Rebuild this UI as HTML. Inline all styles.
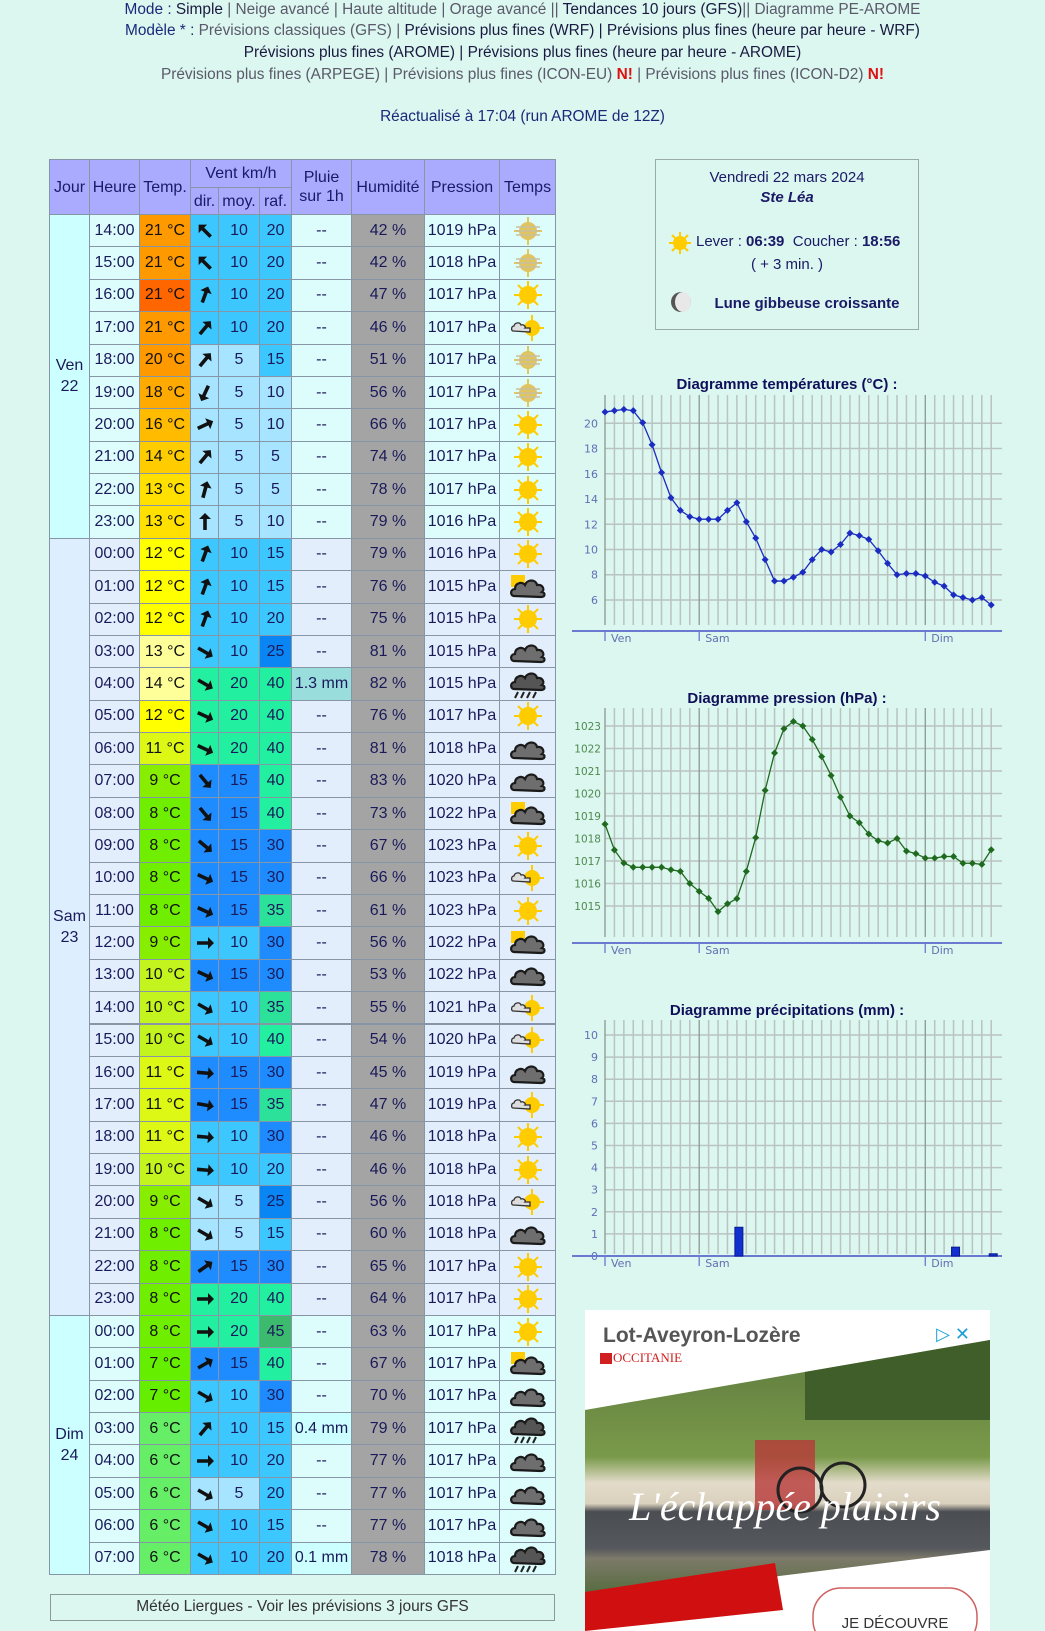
<!DOCTYPE html>
<html lang="fr">
<head>
<meta charset="utf-8">
<style>
  html,body{margin:0;padding:0;}
  body{width:1045px;height:1631px;overflow:hidden;background:#dcf6f0;position:relative;font-family:"Liberation Sans",sans-serif;color:#1a1a5a;}
  .topline{position:absolute;left:0;width:1045px;text-align:center;font-size:15.4px;white-space:nowrap;line-height:18px;}
  .g{color:#5a5a6a;} .d{color:#1a1a40;} .n{color:#1a2a7a;} .r{color:#e01010;font-weight:bold;}
  .cell{position:absolute;box-sizing:border-box;border:1px solid #8796a6;display:flex;align-items:center;justify-content:center;font-size:16px;white-space:nowrap;}
  .hd{background:#aaaaff;color:#1a1a66;text-align:center;line-height:19px;}
  .infobox{position:absolute;left:655px;top:159px;width:264px;height:171px;box-sizing:border-box;border:1.5px solid #9aa;text-align:center;font-size:15px;color:#1a1a66;}
</style>
</head>
<body>
<div class="topline" style="top:1px"><span class="n">Mode : </span><span class="d">Simple</span><span class="g"> | Neige avancé | Haute altitude | Orage avancé || </span><span class="d">Tendances 10 jours (GFS)</span><span class="g">|| Diagramme PE-AROME</span></div>
<div class="topline" style="top:22px"><span class="n">Modèle * : </span><span class="g">Prévisions classiques (GFS) | </span><span class="d">Prévisions plus fines (WRF) | Prévisions plus fines (heure par heure - WRF)</span></div>
<div class="topline" style="top:44px"><span class="d">Prévisions plus fines (AROME) | Prévisions plus fines (heure par heure - AROME)</span></div>
<div class="topline" style="top:66px"><span class="g">Prévisions plus fines (ARPEGE) | Prévisions plus fines (ICON-EU) </span><span class="r">N!</span><span class="g"> | Prévisions plus fines (ICON-D2) </span><span class="r">N!</span></div>
<div class="topline n" style="top:108px">Réactualisé à 17:04 (run AROME de 12Z)</div>

<div id="tbl"></div>

<div class="infobox">
  <div style="position:absolute;top:9px;width:100%">Vendredi 22 mars 2024</div>
  <div style="position:absolute;top:29px;width:100%;font-weight:bold;font-style:italic">Ste Léa</div>
  <svg style="position:absolute;left:12px;top:71px" width="24" height="24" viewBox="0 0 24 24"><g stroke="#ffcc00" stroke-width="2"><line x1="12" y1="1" x2="12" y2="23"/><line x1="1" y1="12" x2="23" y2="12"/><line x1="4" y1="4" x2="20" y2="20"/><line x1="20" y1="4" x2="4" y2="20"/></g><circle cx="12" cy="12" r="7" fill="#ffcc00"/></svg>
  <div style="position:absolute;top:73px;left:40px;width:222px;text-align:left">Lever : <b>06:39</b> &nbsp;Coucher : <b>18:56</b></div>
  <div style="position:absolute;top:96px;width:100%">( + 3 min. )</div>
  <svg style="position:absolute;left:14px;top:131px" width="22" height="22" viewBox="0 0 22 22"><circle cx="11" cy="11" r="10" fill="#555"/><ellipse cx="13" cy="11" rx="8" ry="10" fill="#e8e8e8"/></svg>
  <div style="position:absolute;top:135px;left:40px;width:222px;font-weight:bold">Lune gibbeuse croissante</div>
</div>

<svg id="charts" width="1045" height="1631" style="position:absolute;left:0;top:0"></svg>

<div style="position:absolute;left:50px;top:1594px;width:505px;height:27px;box-sizing:border-box;border:1.5px solid #8a9a9a;text-align:center;font-size:15.5px;line-height:24px;color:#333">Météo Liergues - Voir les prévisions 3 jours GFS</div>

<div style="position:absolute;left:585px;top:1310px;width:405px;height:321px;background:#fff;overflow:hidden">
  <svg width="405" height="321" style="position:absolute;left:0;top:0">
    <defs>
      <clipPath id="pc"><polygon points="0,100 405,30 405,240 0,290"/></clipPath>
      <linearGradient id="sky" x1="0" y1="0" x2="0" y2="1"><stop offset="0" stop-color="#5d7a3e"/><stop offset="0.45" stop-color="#7a9a4a"/><stop offset="0.55" stop-color="#e4dccb"/><stop offset="0.63" stop-color="#d9d0bd"/><stop offset="0.66" stop-color="#4a4d52"/><stop offset="0.8" stop-color="#55585c"/><stop offset="0.84" stop-color="#7d7a6a"/><stop offset="1" stop-color="#4f6a36"/></linearGradient>
    </defs>
    <rect x="0" y="30" width="405" height="260" fill="url(#sky)" clip-path="url(#pc)"/>
    <g clip-path="url(#pc)"><rect x="220" y="20" width="185" height="90" fill="#3f5e2a"/><rect x="170" y="130" width="60" height="70" fill="#b8393a" opacity="0.8"/><circle cx="215" cy="180" r="22" fill="none" stroke="#222" stroke-width="3"/><circle cx="258" cy="175" r="22" fill="none" stroke="#222" stroke-width="3"/></g>
    <polygon points="0,282 190,253 198,300 0,321" fill="#d01010"/>
    <rect x="228" y="278" width="164" height="60" rx="28" fill="#fff" stroke="#d06060" stroke-width="1.5"/>
    <text x="310" y="318" text-anchor="middle" font-family="Liberation Sans,sans-serif" font-size="15" fill="#333">JE DÉCOUVRE</text>
    <text x="18" y="32" font-family="Liberation Sans,sans-serif" font-weight="bold" font-size="21" fill="#555">Lot-Aveyron-Lozère</text>
    <text x="28" y="52" font-family="Liberation Serif,serif" font-size="13" fill="#d02020">OCCITANIE</text>
    <rect x="15" y="43" width="12" height="11" fill="#d02020"/>
    <text x="385" y="30" font-family="Liberation Sans,sans-serif" font-size="18" fill="#1aa0d8" text-anchor="end">▷ ✕</text>
    <text x="200" y="210" text-anchor="middle" font-family="Liberation Serif,serif" font-style="italic" font-size="40" fill="#fff">L'échappée plaisirs</text>
  </svg>
</div>

<svg width="0" height="0" style="position:absolute">
  <defs>
    <symbol id="i-sun" viewBox="0 0 40 30"><g stroke="#ffcc00" stroke-width="2"><line x1="20" y1="1" x2="20" y2="29"/><line x1="6" y1="15" x2="34" y2="15"/><line x1="10" y1="5" x2="30" y2="25"/><line x1="30" y1="5" x2="10" y2="25"/></g><circle cx="20" cy="15" r="9" fill="#ffcc00"/></symbol>
    <symbol id="i-haze" viewBox="0 0 40 30"><g stroke="#e8c850" stroke-width="2"><line x1="20" y1="1" x2="20" y2="29"/><line x1="6" y1="15" x2="34" y2="15"/></g><circle cx="20" cy="15" r="9" fill="#e0c460"/><g stroke="#c8c0a0" stroke-width="1.5"><line x1="8" y1="11" x2="32" y2="11"/><line x1="8" y1="15" x2="32" y2="15"/><line x1="8" y1="19" x2="32" y2="19"/></g></symbol>
    <symbol id="i-cloud" viewBox="0 0 40 30"><path d="M6,24 C2,24 2,17 7,17 C7,11 14,9 17,13 C19,7 28,7 29,13 C35,12 37,18 34,20 C38,21 37,25 33,25 Z" fill="#6e6e6e" stroke="#1a1a1a" stroke-width="2.2"/></symbol>
    <symbol id="i-cloudsun" viewBox="0 0 40 30"><rect x="3" y="3" width="14" height="12" fill="#ffcc00"/><path d="M6,24 C2,24 2,17 7,17 C7,11 14,9 17,13 C19,7 28,7 29,13 C35,12 37,18 34,20 C38,21 37,25 33,25 Z" fill="#6e6e6e" stroke="#1a1a1a" stroke-width="2.2"/></symbol>
    <symbol id="i-small" viewBox="0 0 40 30"><g stroke="#ffcc00" stroke-width="2"><line x1="24" y1="2" x2="24" y2="28"/><line x1="12" y1="15" x2="36" y2="15"/></g><circle cx="24" cy="15" r="8" fill="#ffcc00"/><path d="M5,18 C3,18 3,13 6,13 C7,9 12,9 13,12 C16,11 18,14 17,15 L22,15 L22,19 Z" fill="#ddd" stroke="#333" stroke-width="1.3"/></symbol>
    <symbol id="i-rain" viewBox="0 0 40 30"><path d="M6,20 C2,20 2,13 7,13 C7,7 14,5 17,9 C19,3 28,3 29,9 C35,8 37,14 34,16 C38,17 37,21 33,21 Z" fill="#555" stroke="#1a1a1a" stroke-width="2.2"/><g stroke="#222" stroke-width="2"><line x1="10" y1="23" x2="7" y2="29"/><line x1="16" y1="23" x2="13" y2="29"/><line x1="22" y1="23" x2="19" y2="29"/><line x1="28" y1="23" x2="25" y2="29"/></g></symbol>
  </defs>
</svg>

<script>
// ---------- table data ----------
const hoursLbl=["14:00","15:00","16:00","17:00","18:00","19:00","20:00","21:00","22:00","23:00",
"00:00","01:00","02:00","03:00","04:00","05:00","06:00","07:00","08:00","09:00","10:00","11:00","12:00","13:00","14:00","15:00","16:00","17:00","18:00","19:00","20:00","21:00","22:00","23:00",
"00:00","01:00","02:00","03:00","04:00","05:00","06:00","07:00"];
const tempsTbl=[21,21,21,21,20,18,16,14,13,13,12,12,12,13,14,12,11,9,8,8,8,8,9,10,10,10,11,11,11,10,9,8,8,8,8,7,7,6,6,6,6,6];
const dirs=[-135,-135,-70,-50,-50,115,-25,-50,-75,-90,-70,-70,-70,30,30,25,25,50,50,40,25,25,0,25,30,30,5,10,5,5,30,30,-35,0,0,-30,30,-50,0,30,30,30];
const moys=[10,10,10,10,5,5,5,5,5,5,10,10,10,10,20,20,20,15,15,15,15,15,10,15,10,10,15,15,10,10,5,5,15,20,20,15,10,10,10,5,10,10];
const rafs=[20,20,20,20,15,10,10,5,5,10,15,15,20,25,40,40,40,40,40,30,30,35,30,30,35,40,30,35,30,20,25,15,30,40,45,40,30,15,20,20,15,20];
const rains=["--","--","--","--","--","--","--","--","--","--","--","--","--","--","1.3 mm","--","--","--","--","--","--","--","--","--","--","--","--","--","--","--","--","--","--","--","--","--","--","0.4 mm","--","--","--","0.1 mm"];
const hums=[42,42,47,46,51,56,66,74,78,79,79,76,75,81,82,76,81,83,73,67,66,61,56,53,55,54,45,47,46,46,56,60,65,64,63,67,70,79,77,77,77,78];
const press=[1019,1018,1017,1017,1017,1017,1017,1017,1017,1016,1016,1015,1015,1015,1015,1017,1018,1020,1022,1023,1023,1023,1022,1022,1021,1020,1019,1019,1018,1018,1018,1018,1017,1017,1017,1017,1017,1017,1017,1017,1017,1018];
const icons=["haze","haze","sun","small","haze","haze","sun","sun","sun","sun",
"sun","cloudsun","sun","cloud","rain","sun","cloud","cloud","cloudsun","sun","small","sun","cloudsun","cloud","small","small","cloud","small","sun","sun","small","cloud","sun","sun",
"sun","cloudsun","cloud","rain","cloud","cloud","cloud","rain"];
const days=[["Ven","22",0,10],["Sam","23",10,34],["Dim","24",34,42]];

const cols=[49,89,139,190,218,259,291,351,424,499,555];
const rowTop=214, rowH=32.38;
const tcol={21:'#ff9900',20:'#ff9900',18:'#ffaa00',16:'#ffbb00',14:'#ffcc00',13:'#ffe000',12:'#ffff00',11:'#dcf814',10:'#c4f41e',9:'#88ee00',8:'#70ee00',7:'#66ee00',6:'#66ee66'};
const mcol={5:'#a6e4ff',10:'#3cc8ff',15:'#1e8cff',20:'#22f0a0'};
const rcol={5:'#a6e4ff',10:'#a6e4ff',15:'#3cc8ff',20:'#3cc8ff',25:'#0a86f4',30:'#1e8cff',35:'#2ce29a',40:'#22f0a0',45:'#3cbb6e'};
const tbl=document.getElementById('tbl');

function mk(x1,x2,y1,y2,bg,html,extra){
  const d=document.createElement('div');
  d.className='cell';
  d.style.left=x1+'px';d.style.width=(x2-x1+1)+'px';
  d.style.top=y1+'px';d.style.height=(y2-y1+1)+'px';
  d.style.background=bg;
  if(extra) d.style.cssText+=extra;
  d.innerHTML=html;
  tbl.appendChild(d);
  return d;
}
let h;
h=mk(cols[0],cols[1],159,214,'#aaaaff','Jour');h.classList.add('hd');


h=mk(cols[1],cols[2],159,214,'#aaaaff','Heure');h.classList.add('hd');


h=mk(cols[2],cols[3],159,214,'#aaaaff','Temp.');h.classList.add('hd');


h=mk(cols[3],cols[6],159,187,'#aaaaff','Vent km/h');h.classList.add('hd');


h=mk(cols[3],cols[4],187,214,'#aaaaff','dir.');h.classList.add('hd');


h=mk(cols[4],cols[5],187,214,'#aaaaff','moy.');h.classList.add('hd');


h=mk(cols[5],cols[6],187,214,'#aaaaff','raf.');h.classList.add('hd');


h=mk(cols[6],cols[7],159,214,'#aaaaff','Pluie<br>sur 1h');h.classList.add('hd');


h=mk(cols[7],cols[8],159,214,'#aaaaff','Humidité');h.classList.add('hd');


h=mk(cols[8],cols[9],159,214,'#aaaaff','Pression');h.classList.add('hd');


h=mk(cols[9],cols[10],159,214,'#aaaaff','Temps');h.classList.add('hd');



days.forEach(function(dd){
  const bg = dd[0]==='Sam' ? '#ddeeff' : '#ccffff';
  const c=mk(cols[0],cols[1],rowTop+dd[2]*rowH,rowTop+dd[3]*rowH,bg,dd[0]+'<br>'+dd[1],'text-align:center;line-height:21px;');
  
  
});

for(let i=0;i<hoursLbl.length;i++){
  const y1=rowTop+i*rowH, y2=y1+rowH;
  const rowBg=(i>=10&&i<34)?'#e2eefc':'#ddfdfd';
  let c;
  c=mk(cols[1],cols[2],y1,y2,rowBg,hoursLbl[i]);
  
  
  let tc=tcol[tempsTbl[i]]; if(i===2) tc='#ff6600'; if(i===13||i===14) tc='#ffff99';
  c=mk(cols[2],cols[3],y1,y2,tc,tempsTbl[i]+' °C','color:#111;');
  
  
  c=mk(cols[3],cols[4],y1,y2,mcol[moys[i]],'<svg width="20" height="20" viewBox="-10 -10 20 20" style="transform:rotate('+dirs[i]+'deg)"><path d="M-8,1.8 L3,1.8 L3,6 L9,0 L3,-6 L3,-1.8 L-8,-1.8 Z" fill="#111"/></svg>');
  
  
  c=mk(cols[4],cols[5],y1,y2,mcol[moys[i]],String(moys[i]));
  
  
  c=mk(cols[5],cols[6],y1,y2,rcol[rafs[i]],String(rafs[i]));
  
  
  let rb=rowBg; if(rains[i]==='1.3 mm') rb='#99dddd'; else if(rains[i]!=='--') rb='#ccffff';
  c=mk(cols[6],cols[7],y1,y2,rb,rains[i]);
  
  
  c=mk(cols[7],cols[8],y1,y2,'#a4a4a4',hums[i]+' %');
  
  
  c=mk(cols[8],cols[9],y1,y2,rowBg,press[i]+' hPa');
  
  
  c=mk(cols[9],cols[10],y1,y2,rowBg,'<svg width="40" height="30"><use href="#i-'+icons[i]+'"/></svg>');
  
  
}

// ---------- chart data ----------
const tempValues=[20.9,21.0,21.1,21.0,20.05,18.3,16.1,14.1,13.1,12.6,12.4,12.4,12.4,13.1,13.7,12.2,10.9,9.2,7.5,7.5,7.8,8.2,9.2,10.0,9.8,10.4,11.3,11.1,10.8,9.9,8.9,8.0,8.1,8.1,7.9,7.4,7.1,6.4,6.2,6.0,6.2,5.6];
const pressValues=[1018.64,1017.49,1016.91,1016.72,1016.72,1016.72,1016.72,1016.61,1016.54,1016.0,1015.65,1015.34,1014.75,1015.1,1015.33,1016.54,1018.04,1020.14,1021.8,1022.88,1023.2,1023.0,1022.4,1021.64,1020.8,1019.84,1019.0,1018.7,1018.2,1017.9,1017.8,1018.0,1017.44,1017.33,1017.13,1017.13,1017.2,1017.2,1016.9,1016.9,1016.85,1017.5];
const rainValues=[0,0,0,0,0,0,0,0,0,0,0,0,0,0,1.3,0,0,0,0,0,0,0,0,0,0,0,0,0,0,0,0,0,0,0,0,0,0,0.4,0,0,0,0.1];
const tempTicks=[6,8,10,12,14,16,18,20];
const pressTicks=[1015,1016,1017,1018,1019,1020,1021,1022,1023];
const rainTicks=[0,1,2,3,4,5,6,7,8,9,10];
const dayLabels=["Ven","Sam","Dim"];
const dayStarts=[0,10,34];

const NS='http://www.w3.org/2000/svg';
const svg=document.getElementById('charts');
function el(tag,attrs,parent){const e=document.createElementNS(NS,tag);for(const k in attrs)e.setAttribute(k,attrs[k]);(parent||svg).appendChild(e);return e;}
const X0=605, DX=9.42;
function xOf(i){return X0+i*DX;}

function chart(cfg){
  const g=el('g',{});
  
  
  const t=el('text',{x:787,y:cfg.titleY,'text-anchor':'middle','font-family':'Liberation Sans,sans-serif','font-weight':'bold','font-size':'15','fill':'#10105a'},g);
  t.textContent=cfg.title;
  
  
  cfg.ticks.forEach(function(v){
    const y=cfg.y(v);
    el('line',{x1:X0,x2:1002,y1:y,y2:y,stroke:'#b9c3bf','stroke-width':1.5},g);
    const lb=el('text',{x:cfg.labX,y:y+4,'text-anchor':'end','font-family':'DejaVu Sans,sans-serif','font-size':cfg.labSize,'fill':cfg.labColor},g);
    lb.textContent=String(v);
    
    
  });
  for(let i=0;i<cfg.values.length;i++){
    const isDay=dayStarts.indexOf(i)>=0;
    el('line',{x1:xOf(i),x2:xOf(i),y1:cfg.top,y2:cfg.bottom,stroke:isDay?'#8c9894':'#b9c3bf','stroke-width':isDay?1.3:1.5},g);
  }
  el('line',{x1:572,x2:1002,y1:cfg.axisY,y2:cfg.axisY,stroke:'#6a7ad0','stroke-width':2},g);
  dayLabels.forEach(function(d,k){
    const x=xOf(dayStarts[k]);
    el('line',{x1:x,x2:x,y1:cfg.axisY,y2:cfg.axisY+10,stroke:'#6a7ad0','stroke-width':1.3},g);
    const tx=el('text',{x:x+6,y:cfg.axisY+11,'font-family':'DejaVu Sans,sans-serif','font-size':'11','fill':'#6070b0'},g);
    tx.textContent=d;
    
    
  });
  cfg.draw(g);
}
function lineSeries(g,values,yf,color,name){
  let pts=values.map(function(v,i){return xOf(i)+','+yf(v);}).join(' ');
  const pl=el('polyline',{points:pts,fill:'none',stroke:color,'stroke-width':1.3},g);
  
  
  values.forEach(function(v,i){
    const x=xOf(i),y=yf(v);
    const p=el('polygon',{points:(x-3.5)+','+y+' '+x+','+(y-3.5)+' '+(x+3.5)+','+y+' '+x+','+(y+3.5),fill:color},g);
    
    
  });
}
function yT(v){return 423.3+(20-v)*12.62;}
function yP(v){return 726+(1023-v)*22.5;}
function yR(v){return 1256-v*22.1;}

chart({name:'temperature-chart',title:'Diagramme températures (°C) :',titleY:389,ticks:tempTicks,y:yT,labX:598,labSize:11,labColor:'#6070b8',top:395,bottom:625,axisY:631,values:tempValues,
  draw:function(g){lineSeries(g,tempValues,yT,'#1c2cc0','temperature');}});
chart({name:'pressure-chart',title:'Diagramme pression (hPa) :',titleY:703,ticks:pressTicks,y:yP,labX:601,labSize:10.5,labColor:'#4f8a4f',top:708,bottom:937,axisY:943,values:pressValues,
  draw:function(g){lineSeries(g,pressValues,yP,'#1f6a1f','pressure');}});
chart({name:'precipitation-chart',title:'Diagramme précipitations (mm) :',titleY:1015,ticks:rainTicks,y:yR,labX:598,labSize:11,labColor:'#6070b8',top:1020,bottom:1254,axisY:1256,values:rainValues,
  draw:function(g){
    rainValues.forEach(function(v,i){
      if(v<=0) return;
      const b=el('rect',{x:xOf(i)-2,y:yR(v),width:8,height:yR(0)-yR(v),fill:'#1030d0',stroke:'#0a1a90','stroke-width':1},g);
      
      
    });
  }});
</script>
</body>
</html>
